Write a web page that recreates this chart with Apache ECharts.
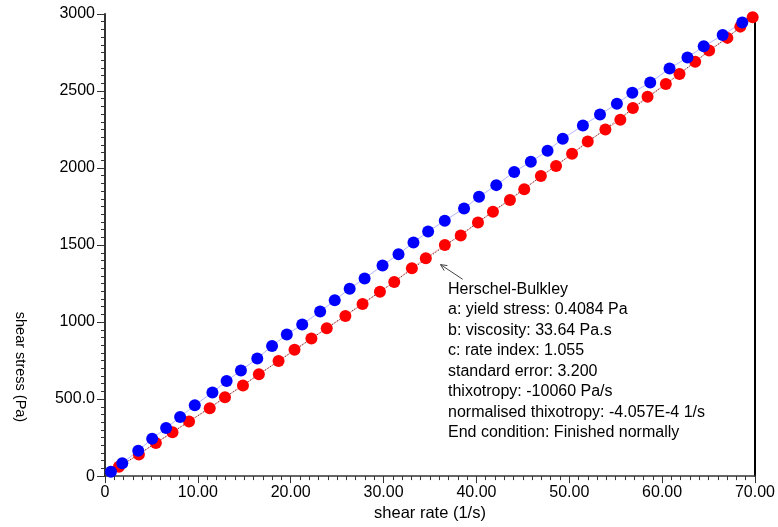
<!DOCTYPE html>
<html>
<head>
<meta charset="utf-8">
<script src="https://cdn.jsdelivr.net/npm/echarts@6/dist/echarts.min.js"></script>
<style>
  html, body { margin: 0; padding: 0; background: #fff; }
  #chart { width: 778px; height: 527px; }
</style>
</head>
<body>
<div id="chart"></div>
<script>
// Ramp-down measurement (blue), shear rate in 1/s and shear stress in Pa
const blueRate = [0.64, 1.86, 3.58, 5.08, 6.58, 8.09, 9.67, 11.57, 13.10, 14.64,
  16.40, 17.99, 19.58, 21.24, 23.17, 24.74, 26.35, 27.96, 29.89, 31.61,
  33.22, 34.80, 36.59, 38.67, 40.28, 42.14, 44.07, 45.86, 47.66, 49.30,
  51.47, 53.31, 55.13, 56.79, 58.72, 60.80, 62.73, 64.48, 66.52, 68.63];
const blueStress = [28, 84, 165, 243, 312, 383, 460, 543, 618, 685,
  764, 845, 919, 984, 1068, 1141, 1217, 1283, 1367, 1441,
  1516, 1588, 1658, 1738, 1813, 1889, 1975, 2041, 2112, 2190,
  2276, 2347, 2418, 2489, 2555, 2646, 2717, 2790, 2863, 2945];

// Ramp-up measurement (red)
const redRate = [1.50, 3.65, 5.48, 7.27, 9.05, 11.28, 12.92, 14.86, 16.57, 18.69,
  20.41, 22.23, 23.88, 25.89, 27.74, 29.61, 31.15, 33.05, 34.55, 36.60,
  38.31, 40.17, 41.78, 43.61, 45.15, 46.94, 48.58, 50.30, 51.99, 53.89,
  55.50, 56.85, 58.43, 60.40, 61.87, 63.56, 65.06, 67.03, 68.42, 69.75];
const redStress = [60, 140, 215, 284, 355, 441, 512, 588, 661, 747,
  820, 893, 960, 1040, 1117, 1197, 1260, 1350, 1414, 1500,
  1562, 1647, 1716, 1793, 1862, 1948, 2013, 2093, 2172, 2250,
  2314, 2390, 2463, 2545, 2610, 2690, 2763, 2845, 2918, 2979];

// Herschel-Bulkley model curve
const fitRate = [0, 10, 20, 30, 40, 50, 60, 70];
const fitStress = [0.4, 392, 800, 1213, 1640, 2079, 2527, 2985];

// Tick labels
const xTickLabels = ['0', '10.00', '20.00', '30.00', '40.00', '50.00', '60.00', '70.00'];
const yTickLabels = ['0', '500.0', '1000', '1500', '2000', '2500', '3000'];

// Model summary
const fitLines = [
  'Herschel-Bulkley',
  'a: yield stress: 0.4084 Pa',
  'b: viscosity: 33.64 Pa.s',
  'c: rate index: 1.055',
  'standard error: 3.200',
  'thixotropy: -10060 Pa/s',
  'normalised thixotropy: -4.057E-4 1/s',
  'End condition: Finished normally'
];

const FONT = '"Liberation Sans", Arial, Helvetica, sans-serif';
const zip = (a, b) => a.map((v, i) => [v, b[i]]);

const chart = echarts.init(document.getElementById('chart'), null, { renderer: 'canvas' });

const option = {
  animation: false,
  backgroundColor: '#ffffff',
  grid: { left: 105, right: 21, top: 14, bottom: 49, containLabel: false },
  xAxis: {
    type: 'value',
    min: 0, max: 70, interval: 10,
    name: 'shear rate (1/s)',
    nameLocation: 'middle',
    nameGap: 26,
    nameTextStyle: { fontFamily: FONT, fontSize: 16.5, color: '#000' },
    axisLine: { show: true, onZero: false, lineStyle: { color: '#333', width: 1.5 } },
    axisTick: { show: true, length: 7, lineStyle: { color: '#333', width: 1 } },
    minorTick: { show: true, splitNumber: 10, length: 4, lineStyle: { color: '#333', width: 1 } },
    splitLine: { show: false },
    axisLabel: {
      fontFamily: FONT, fontSize: 16, color: '#000', margin: 8,
      formatter: v => xTickLabels[Math.round(v / 10)]
    }
  },
  yAxis: [
    {
      type: 'value',
      min: 0, max: 3000, interval: 500,
      axisLine: { show: true, onZero: false, lineStyle: { color: '#333', width: 2 } },
      axisTick: { show: true, length: 8, lineStyle: { color: '#333', width: 1 } },
      minorTick: { show: true, splitNumber: 10, length: 4, lineStyle: { color: '#333', width: 1 } },
      splitLine: { show: false },
      axisLabel: {
        fontFamily: FONT, fontSize: 16, color: '#000', margin: 10,
        formatter: v => yTickLabels[Math.round(v / 500)]
      }
    },
    {
      type: 'value',
      position: 'right',
      min: 0, max: 3000,
      axisLine: { show: true, onZero: false, lineStyle: { color: '#000', width: 2 } },
      axisTick: { show: false },
      axisLabel: { show: false },
      splitLine: { show: false }
    }
  ],
  series: [
    {
      name: 'up',
      type: 'line',
      data: zip(redRate, redStress),
      symbol: 'circle',
      symbolSize: 12,
      itemStyle: { color: '#ff0000' },
      lineStyle: { color: '#ff9a9a', width: 1 },
      clip: false
    },
    {
      name: 'Herschel-Bulkley',
      type: 'line',
      data: zip(fitRate, fitStress),
      showSymbol: false,
      symbol: 'none',
      lineStyle: { color: '#303030', width: 1, type: [1, 2] }
    },
    {
      name: 'down',
      type: 'line',
      data: zip(blueRate, blueStress),
      symbol: 'circle',
      symbolSize: 12,
      itemStyle: { color: '#0000ff' },
      lineStyle: { color: '#b4b4ff', width: 1 },
      clip: false
    }
  ],
  graphic: [
    {
      // vertical axis title, reading top to bottom
      type: 'text',
      x: 20, y: 367,
      rotation: -Math.PI / 2,
      style: {
        text: 'shear stress (Pa)',
        fontFamily: FONT, fontSize: 14.5, fill: '#000',
        align: 'center', verticalAlign: 'middle'
      }
    },
    {
      type: 'line',
      shape: { x1: 462.7, y1: 279.3, x2: 440.5, y2: 264.6 },
      style: { stroke: '#444', lineWidth: 1 }
    },
    {
      type: 'polyline',
      shape: { points: [[447.4, 265.6], [440.5, 264.6], [444.2, 270.6]] },
      style: { stroke: '#444', lineWidth: 1, fill: null }
    },
    {
      type: 'text',
      x: 448, y: 279,
      style: {
        text: fitLines.join('\n'),
        fontFamily: FONT, fontSize: 16, fill: '#000',
        lineHeight: 20.5,
        align: 'left', verticalAlign: 'top'
      }
    }
  ]
};

chart.setOption(option);
</script>
</body>
</html>
